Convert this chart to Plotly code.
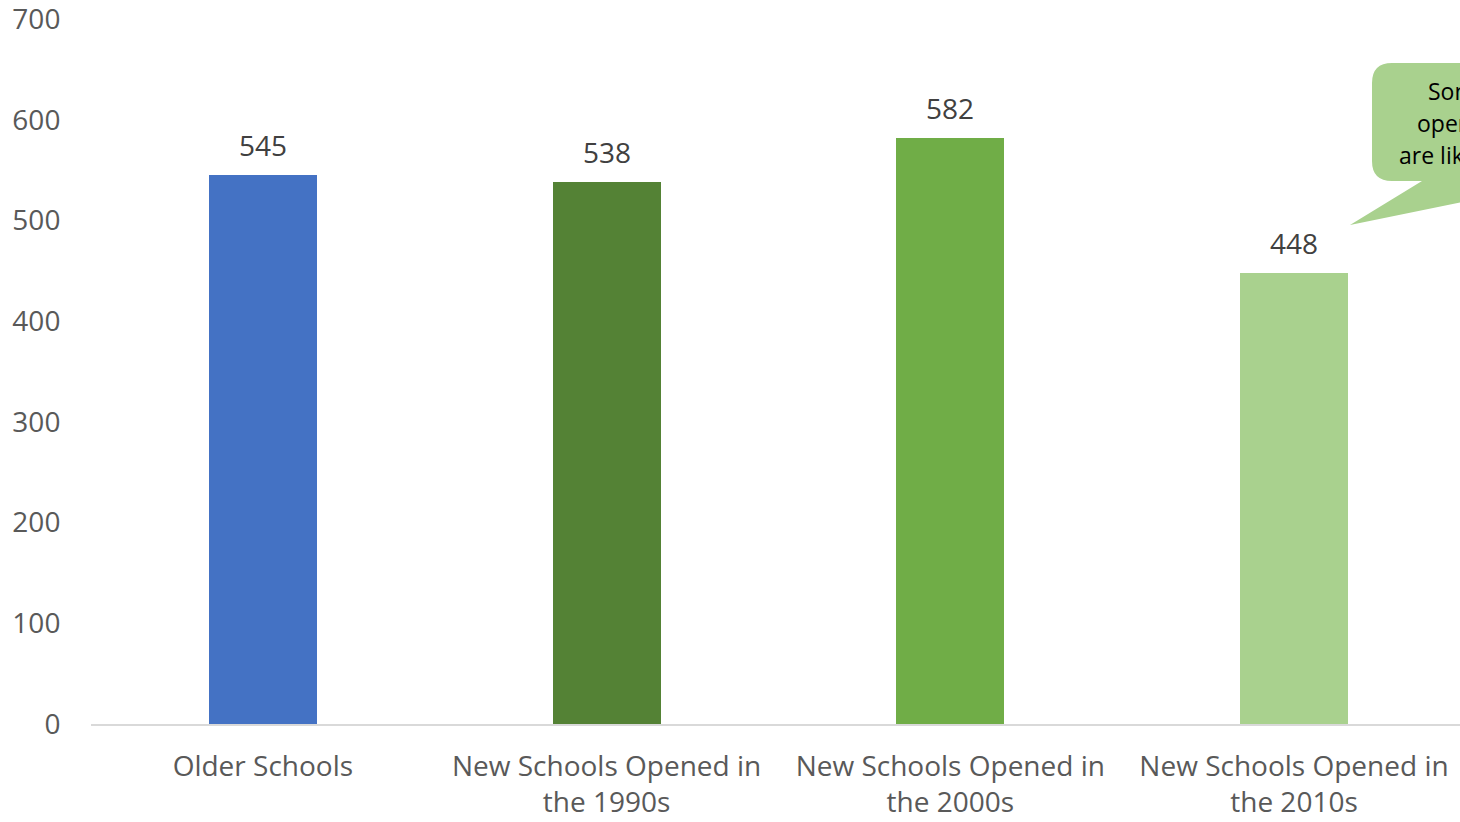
import plotly.graph_objects as go

categories = ["Older Schools", "New Schools Opened in<br>the 1990s",
              "New Schools Opened in<br>the 2000s", "New Schools Opened in<br>the 2010s"]
values = [545, 538, 582, 448]
bar_colors = ["#4472C4", "#548235", "#70AD47", "#A9D18E"]
y_ticks = [0, 100, 200, 300, 400, 500, 600, 700]
callout_lines = ["Some schools", "opened in the", "are likely still"]

W, H = 1460, 822
L, R, T, B = 91, 0, 19, 98
PW, PH = W - L - R, H - T - B

def px(x):
    return (x - L) / PW

def py(y):
    return (H - B - y) / PH

fig = go.Figure()
fig.add_trace(go.Bar(
    x=list(range(len(categories))), y=values,
    marker=dict(color=bar_colors, line=dict(width=0)),
    width=0.314, hoverinfo="skip",
))

annotations = []
for i, v in enumerate(values):
    annotations.append(dict(
        x=i, y=v, xref="x", yref="y", text=str(v), showarrow=False,
        yanchor="bottom", yshift=9,
        font=dict(family="Open Sans", size=28, color="#404040"),
    ))

# callout bubble (extends beyond the right edge, clipped)
x0, x1, y0, y1, r = 1372, 1700, 63, 181, 20
path = (f"M {px(x0 + r)} {py(y0)} L {px(x1)} {py(y0)} L {px(x1)} {py(y1)} "
        f"L {px(1565)} {py(y1)} L {px(1350)} {py(225)} L {px(1422)} {py(y1)} "
        f"L {px(x0 + r)} {py(y1)} Q {px(x0)} {py(y1)} {px(x0)} {py(y1 - r)} "
        f"L {px(x0)} {py(y0 + r)} Q {px(x0)} {py(y0)} {px(x0 + r)} {py(y0)} Z")
shapes = [dict(type="path", xref="paper", yref="paper", path=path,
               fillcolor="#A9D18E", line=dict(width=0), layer="above")]

line_x = [1427, 1416, 1398]
line_y = [91, 123, 155]
for t, lx, ly in zip(callout_lines, line_x, line_y):
    annotations.append(dict(
        x=px(lx), y=py(ly), xref="paper", yref="paper", text=t, showarrow=False,
        xanchor="left", yanchor="middle", borderpad=0,
        font=dict(family="Open Sans", size=23, color="#000000"),
    ))

fig.update_layout(
    width=W, height=H,
    margin=dict(l=L, r=R, t=T, b=B, pad=0),
    paper_bgcolor="white", plot_bgcolor="white",
    showlegend=False,
    bargap=0,
    font=dict(family="Open Sans", size=28, color="#595959"),
    xaxis=dict(
        tickmode="array", tickvals=list(range(len(categories))), ticktext=categories,
        range=[-0.5, 3.483], showgrid=False, zeroline=False,
        showline=True, linecolor="#D9D9D9", linewidth=2,
        ticks="outside", ticklen=16, tickcolor="rgba(0,0,0,0)",
        tickfont=dict(family="Open Sans", size=28, color="#595959"),
        fixedrange=True,
    ),
    yaxis=dict(
        range=[0, 700], tickvals=y_ticks, showgrid=False, zeroline=False,
        showline=False, ticks="outside", ticklen=24, tickcolor="rgba(0,0,0,0)",
        tickfont=dict(family="Open Sans", size=28, color="#595959"),
        ticklabeloverflow="allow",
        fixedrange=True,
    ),
    shapes=shapes,
    annotations=annotations,
)

fig.write_html(
    "out.html",
    config={"displayModeBar": False},
    post_script="document.body.style.margin='0';document.body.style.overflow='hidden';",
)
